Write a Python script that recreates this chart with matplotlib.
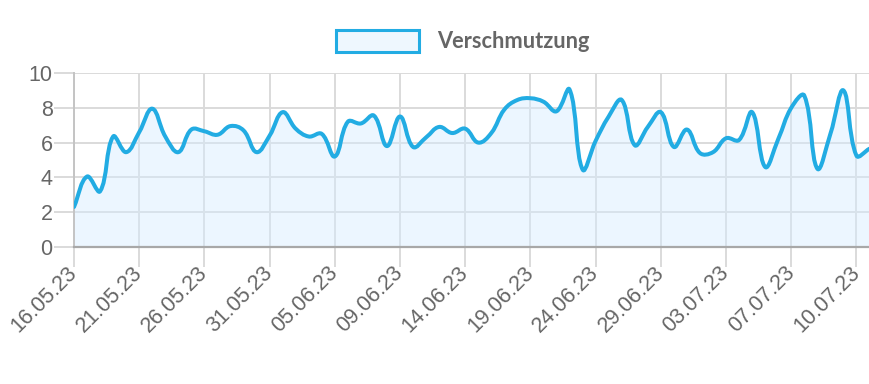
import numpy as np
import matplotlib
matplotlib.use('Agg')
import matplotlib.pyplot as plt
from matplotlib.path import Path
from matplotlib.patches import PathPatch, Patch

# Beschriftete Tage (Chart.js zeigt nur jedes 5. Label)
tick_labels = ['16.05.23', '21.05.23', '26.05.23', '31.05.23', '05.06.23', '09.06.23',
               '14.06.23', '19.06.23', '24.06.23', '29.06.23', '03.07.23', '07.07.23',
               '10.07.23']
label_step = 5

verschmutzung = [2.3, 4.05, 3.2, 6.35, 5.45, 6.6, 7.95, 6.35, 5.45, 6.75,
                 6.65, 6.45, 6.95, 6.7, 5.45, 6.4, 7.75, 6.8, 6.35, 6.5,
                 5.2, 7.2, 7.1, 7.55, 5.8, 7.5, 5.75, 6.3, 6.9, 6.55,
                 6.8, 6.0, 6.55, 7.9, 8.45, 8.55, 8.35, 7.8, 9.05, 4.45,
                 6.1, 7.5, 8.45, 5.85, 6.9, 7.75, 5.75, 6.75, 5.4, 5.45,
                 6.25, 6.15, 7.75, 4.6, 6.2, 8.0, 8.7, 4.5, 6.5, 9.0,
                 5.25, 5.65]

y_min, y_max = 0, 10
y_ticks = [0, 2, 4, 6, 8, 10]

line_color = '#22ace3'
fill_color = '#d6ecff'
text_color = '#666666'
grid_color = '#dadada'
zero_color = '#a8a8a8'


def chartjs_path(values, tension=0.4, sx=13.05, sy=17.4):
    # Bezier-Kontrollpunkte wie Chart.js splineCurve, in Pixelmassstab gerechnet
    n = len(values)
    x = np.arange(n) * sx
    y = np.asarray(values, dtype=float) * sy
    prev_c, next_c = [], []
    for i in range(n):
        p, q = max(i - 1, 0), min(i + 1, n - 1)
        d01 = np.hypot(x[i] - x[p], y[i] - y[p])
        d12 = np.hypot(x[q] - x[i], y[q] - y[i])
        tot = d01 + d12
        fa = tension * (d01 / tot if tot else 0)
        fb = tension * (d12 / tot if tot else 0)
        dx, dy = x[q] - x[p], y[q] - y[p]
        prev_c.append((x[i] - fa * dx, y[i] - fa * dy))
        next_c.append((x[i] + fb * dx, y[i] + fb * dy))

    def back(pt):
        cx = min(max(pt[0] / sx, 0), n - 1)
        cy = min(max(pt[1] / sy, y_min), y_max)
        return (cx, cy)

    verts = [(0, values[0])]
    codes = [Path.MOVETO]
    for i in range(n - 1):
        verts += [back(next_c[i]), back(prev_c[i + 1]), (i + 1, values[i + 1])]
        codes += [Path.CURVE4] * 3
    return verts, codes


fig = plt.figure(figsize=(8.7, 3.84), dpi=100)
ax = fig.add_axes([74 / 870, 1 - 247 / 384, (869.5 - 74) / 870, (247 - 73) / 384])

verts, codes = chartjs_path(verschmutzung)
n = len(verschmutzung)

# Flaeche bis zur Nulllinie
fill_verts = verts + [(n - 1, 0), (0, 0), (0, 0)]
fill_codes = codes + [Path.LINETO, Path.LINETO, Path.CLOSEPOLY]
ax.add_patch(PathPatch(Path(fill_verts, fill_codes), facecolor=fill_color, alpha=0.45,
                       edgecolor='none', zorder=1))
ax.add_patch(PathPatch(Path(verts, codes), facecolor='none', edgecolor=line_color,
                       lw=2.9, capstyle='round', joinstyle='round', zorder=3))

ax.set_xlim(0, n - 1)
ax.set_ylim(y_min, y_max)
ax.set_xticks(range(0, n, label_step)[:len(tick_labels)])
ax.set_xticklabels(tick_labels, rotation=45, ha='right', va='center', rotation_mode='anchor',
                   fontfamily='Liberation Sans')
ax.set_yticks(y_ticks)
ax.set_yticklabels([str(v) for v in y_ticks], fontfamily='Liberation Sans')

ax.grid(True, color=grid_color, lw=1.4, zorder=0)
ax.set_axisbelow(True)
ax.tick_params(axis='both', length=14.4, width=1.4, color=grid_color,
               labelcolor=text_color, labelsize=15.5)
ax.tick_params(axis='y', pad=1)
ax.tick_params(axis='x', pad=2)

for side in ['top', 'right']:
    ax.spines[side].set_visible(False)
ax.spines['bottom'].set_color(zero_color)
ax.spines['bottom'].set_linewidth(1.6)
ax.spines['left'].set_color('#c4c4c4')
ax.spines['left'].set_linewidth(1.4)

handle = Patch(facecolor='#eef7fe', edgecolor=line_color, lw=2.2, label='Verschmutzung')
fig.legend(handles=[handle], loc='center', bbox_to_anchor=(0.532, 0.893), frameon=False,
           handlelength=3.8, handleheight=1.2, handletextpad=0.8,
           prop={'family': 'Lato', 'weight': 'bold', 'size': 15.7}, labelcolor=text_color)

fig.savefig('out.png', dpi=100, facecolor='white')
